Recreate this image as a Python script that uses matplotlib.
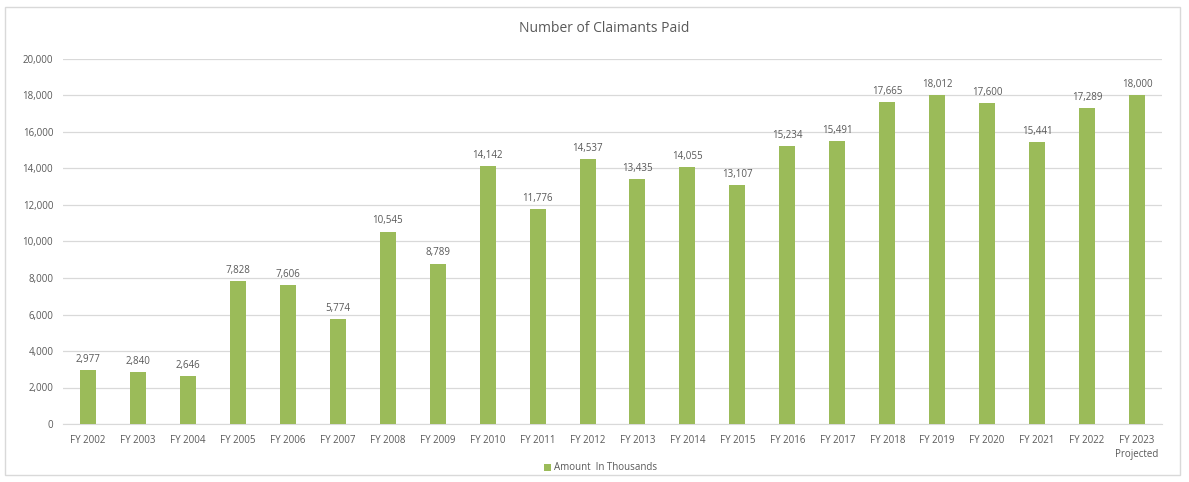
import matplotlib
matplotlib.use("Agg")
import matplotlib.pyplot as plt
from matplotlib.patches import Rectangle

categories = ["FY 2002", "FY 2003", "FY 2004", "FY 2005", "FY 2006", "FY 2007", "FY 2008",
              "FY 2009", "FY 2010", "FY 2011", "FY 2012", "FY 2013", "FY 2014", "FY 2015",
              "FY 2016", "FY 2017", "FY 2018", "FY 2019", "FY 2020", "FY 2021", "FY 2022",
              "FY 2023\nProjected"]
values = [2977, 2840, 2646, 7828, 7606, 5774, 10545, 8789, 14142, 11776, 14537, 13435,
          14055, 13107, 15234, 15491, 17665, 18012, 17600, 15441, 17289, 18000]
yticks = list(range(0, 20001, 2000))

plt.rcParams['font.family'] = ['Open Sans', 'DejaVu Sans']
txt = "#595959"
green = "#9BBB59"

fig = plt.figure(figsize=(11.89, 4.82), dpi=100)
fig.patches.append(Rectangle((5/1189, 7/482), 1175/1189, 468/482, transform=fig.transFigure,
                             fill=False, edgecolor="#d9d9d9", linewidth=1))
ax = fig.add_axes([63/1189, 1 - 424/482, 1099/1189, (424 - 59)/482])
x = list(range(len(categories)))
bars = ax.bar(x, values, width=0.32, color=green, zorder=3, label="Amount  In Thousands")
for xi, v in zip(x, values):
    ax.text(xi, v + 280, f"{v:,}", ha="center", va="bottom", fontsize=7, color=txt)
ax.set_xlim(-0.5, len(categories) - 0.5)
ax.set_ylim(0, 20000)
ax.set_yticks(yticks)
ax.set_yticklabels([f"{t:,}" for t in yticks], fontsize=7, color=txt)
ax.set_xticks(x)
ax.set_xticklabels(categories, fontsize=7, color=txt, linespacing=1.4)
ax.grid(axis="y", color="#d9d9d9", linewidth=0.9, zorder=0)
for s in ["top", "right", "left"]:
    ax.spines[s].set_visible(False)
ax.spines["bottom"].set_color("#d9d9d9")
ax.tick_params(axis="both", length=0, pad=8)
ax.tick_params(axis="y", pad=7)
fig.text(0.508, 1 - 28/482, "Number of Claimants Paid", ha="center", va="center",
         fontsize=10, color=txt)
fig.legend(handles=[bars], labels=["Amount  In Thousands"], loc="center",
           bbox_to_anchor=(0.505, 1 - 468/482), frameon=False, fontsize=7,
           labelcolor=txt, handlelength=0.7, handleheight=0.7, handletextpad=0.3)
fig.savefig("out.png", dpi=100)
